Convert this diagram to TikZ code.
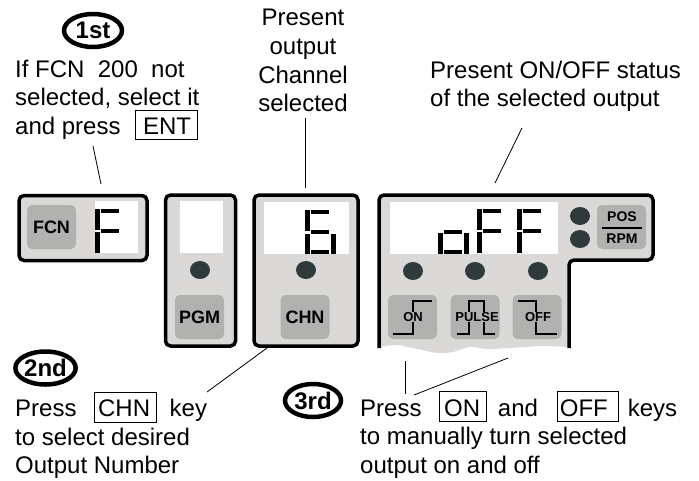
\documentclass[tikz,border=0pt]{standalone}
\usepackage{fontspec}
\usepackage{tikz}
\usetikzlibrary{shapes.geometric}
\setmainfont{Liberation Sans}

\definecolor{panelgray}{HTML}{DAD9D8}
\definecolor{keygray}{HTML}{B1B1B0}
\definecolor{ledgray}{HTML}{2F3B3B}

\newcommand{\framedkey}[3]{\smash{\fboxsep=0pt\fboxrule=0.9pt\fbox{\rule[-5pt]{0pt}{29pt}\hspace{#1pt}#3\hspace{#2pt}}}}

\tikzset{
  panel/.style={draw=black, line width=3.5pt, fill=panelgray, rounded corners=5pt, inner sep=0pt},
  keybtn/.style={fill=keygray, rounded corners=5pt, minimum width=49pt, minimum height=44pt, inner sep=0pt, font=\fontsize{18}{18}\selectfont\bfseries},
  window/.style={fill=white, inner sep=0pt},
  led/.style={ellipse, fill=ledgray, minimum width=20pt, minimum height=18pt, inner sep=0pt},
  order/.style={ellipse, draw=black, line width=4.5pt, minimum width=#1, minimum height=33pt, inner sep=0pt, font=\fontsize{24}{24}\selectfont\bfseries},
  note/.style={anchor=north west, align=left, inner sep=0pt, font=\fontsize{24}{28.7}\selectfont},
  tinylabel/.style={fill=keygray, inner sep=0.8pt, font=\fontsize{13}{13}\selectfont\bfseries},
  leader/.style={line width=0.8pt},
  wave/.style={line width=1.2pt}
}

\begin{document}
\begin{tikzpicture}[x=1pt, y=-1pt]
\useasboundingbox (0,0) rectangle (699,480);

% FCN panel
\node [panel, minimum width=128pt, minimum height=65pt] (fcnpanel) at (83,228) {};
\node [keybtn] (fcnkey) at (51.5,227) {FCN};
\node [window, minimum width=43pt, minimum height=52pt] (fcnwin) at (116.5,227) {};

% PGM panel
\node [panel, minimum width=70pt, minimum height=151pt] (pgmpanel) at (200.5,270.5) {};
\node [window, minimum width=43pt, minimum height=52pt] (pgmwin) at (201.5,227) {};
\node [led] (pgmled) at (200,270) {};
\node [keybtn] (pgmkey) at (199.5,317) {PGM};

% CHN panel
\node [panel, minimum width=104pt, minimum height=151pt] (chnpanel) at (306,270.5) {};
\node [window, minimum width=85pt, minimum height=52pt] (chnwin) at (306.5,228) {};
\node [led] (chnled) at (306,270) {};
\node [keybtn] (chnkey) at (305,317) {CHN};

% Status panel, torn off at the bottom
\fill [panelgray] (379,347) [rounded corners=5pt] -- (379,195) -- (653,195) -- (653,260) -- (569,260) [sharp corners] -- (569,347)
  plot [smooth] coordinates {(569,347) (540,346) (510,348) (487,349) (470,347) (453,352) (437,353) (413,348) (397,345) (379,347)};
\draw [line width=3.5pt, rounded corners=5pt] (379,348) -- (379,195) -- (653,195) -- (653,260) -- (569,260) -- (569,348);
\node [window, minimum width=168pt, minimum height=52pt] (statuswin) at (474,228) {};
\foreach \i/\px in {1/413, 2/475, 3/538} {
  \node [led] (statusled\i) at (\px,271) {};
}
\node [led] (posled) at (580,216) {};
\node [led] (rpmled) at (580,239) {};

% Keys of the status panel
\node [keybtn] (onkey) at (412.5,317) {};
\node [keybtn] (pulsekey) at (475,317) {};
\node [keybtn] (offkey) at (537,317) {};
\node [keybtn] (poskey) at (621.5,227) {};
\draw [wave] (393,334) -- (413,334) -- (413,301) -- (432,301);
\draw [wave] (457,334) -- (469,334) -- (469,301) -- (484,301) -- (484,334) -- (495,334);
\draw [wave] (518,301) -- (536,301) -- (536,334) -- (557,334);
\node [tinylabel] (onlabel) at (413,317) {ON};
\node [tinylabel] (pulselabel) at (477,317) {PULSE};
\node [tinylabel] (offlabel) at (538,317) {OFF};
\node [font=\fontsize{14}{14}\selectfont\bfseries, inner sep=0pt] (poslabel) at (622,217) {POS};
\node [font=\fontsize{14}{14}\selectfont\bfseries, inner sep=0pt] (rpmlabel) at (622,238.5) {RPM};
\draw [line width=2pt] (602,228) -- (642,228);

% Digits
\foreach \dx in {0,382,422} {
  \fill (95+\dx,209) rectangle (100+\dx,230);
  \fill (95+\dx,232) rectangle (100+\dx,253);
  \fill (101+\dx,209) rectangle (119+\dx,213);
  \fill (101+\dx,229) rectangle (119+\dx,233);
}
% 6
\fill (305,210) rectangle (310,231);
\fill (305,234) rectangle (310,254);
\fill (311,210) rectangle (329,214);
\fill (311,230) rectangle (329,234);
\fill (311,250) rectangle (329,254);
\fill (331,234) rectangle (336,254);
% o
\fill (438,233) rectangle (443,254);
\fill (444,230) rectangle (462,234);
\fill (444,250) rectangle (462,254);
\fill (464,233) rectangle (469,254);

% Order marks
\node [order=58pt] (first) at (93,30.5) {1st};
\node [order=59pt] (second) at (45.5,368) {2nd};
\node [order=56pt] (third) at (313,400.5) {3rd};

% Texts
\node [note] (firstnote) at (15,59.5) {If FCN\ \ 200\ \ not\\selected, select it\\and press \hspace{8pt}\framedkey{7}{6}{ENT}};
\node [note, align=center, anchor=north] (chnnote) at (303,9) {Present\\output\\Channel\\selected};
\node [note] (statusnote) at (430,60.5) {Present ON/OFF status\\of the selected output};
\node [note] (secondnote) at (15,399) {Press \hspace{11pt}\framedkey{3}{6}{CHN} \hspace{6pt}key\\to select desired\\Output Number};
\node [note] (thirdnote) at (360,398.5) {Press \hspace{11pt}\framedkey{4}{6}{ON} \hspace{4.3pt}and \hspace{12.3pt}\framedkey{2}{10}{OFF} \hspace{2.3pt}keys\\to manually turn selected\\output on and off};

% Leaders
\coordinate (fcntop) at (93,146);
\coordinate (fcnend) at (101,184);
\coordinate (chntop) at (305,118);
\coordinate (chnend) at (305,188);
\coordinate (statustop) at (522,128);
\coordinate (statusend) at (495,183);
\coordinate (keyend) at (267,348);
\coordinate (keystart) at (207,392);
\coordinate (ontop) at (405,361);
\coordinate (onend) at (405,394);
\coordinate (offtop) at (508,358);
\coordinate (offend) at (414,395);
\draw [leader] (fcntop) -- (fcnend);
\draw [leader] (chntop) -- (chnend);
\draw [leader] (statustop) -- (statusend);
\draw [leader] (keyend) -- (keystart);
\draw [leader] (ontop) -- (onend);
\draw [leader] (offtop) -- (offend);

\end{tikzpicture}
\end{document}
